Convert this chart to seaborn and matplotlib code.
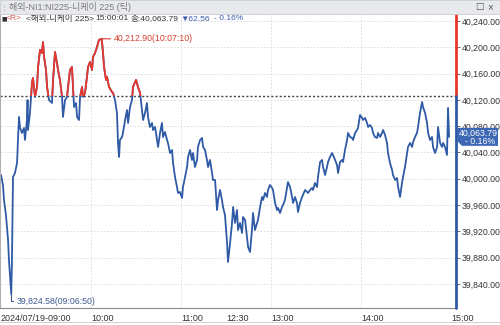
import matplotlib
matplotlib.use("Agg")
import matplotlib.pyplot as plt
import seaborn as sns
import pandas as pd
from matplotlib.patches import Rectangle, Polygon
from matplotlib.lines import Line2D

# ---- data (elapsed trading minutes from 09:00, lunch 11:30-12:30 removed) ----
minutes = [0, 1.3, 2.0, 3.3, 4.7, 5.3, 6.0, 6.83, 7.3, 8.0, 9.3, 10.7, 11.3, 12.0, 12.7, 14.0, 15.3, 16.0, 17.3, 17.7,
           18.0, 19.3, 20.0, 20.7, 21.3, 22.7, 24.0, 24.7, 26.0, 27.3, 28.0, 28.7, 30.0, 30.7, 32.0, 34.0, 34.7, 36.0, 37.3, 38.0,
           39.3, 40.7, 41.3, 42.7, 44.0, 44.7, 46.0, 47.3, 48.0, 48.7, 50.0, 50.7, 52.0, 52.7, 54.0, 54.7, 56.0, 57.3, 58.0, 59.3,
           60.7, 61.3, 62.7, 64.0, 65.3, 67.17, 68.0, 68.7, 70.0, 70.7, 72.0, 74.0, 74.7, 76.0, 77.3, 78.0, 78.7, 79.3, 80.7, 81.3,
           82.7, 84.0, 84.7, 86.0, 87.3, 88.0, 90.0, 91.3, 92.7, 94.0, 94.7, 96.0, 97.3, 98.0, 99.3, 100.7, 101.3, 102.7, 104.0, 104.7,
           106.0, 107.3, 108.0, 109.3, 110.7, 111.3, 112.7, 114.0, 114.7, 116.0, 117.3, 118.0, 119.3, 120.7, 121.3, 122.7, 124.0, 124.7, 126.0, 127.3,
           128.0, 129.3, 130.7, 131.3, 132.7, 134.0, 134.7, 136.0, 137.3, 138.0, 139.3, 140.7, 141.3, 142.7, 144.0, 144.7, 146.0, 147.3, 148.0, 149.3,
           150.7, 151.3, 152.7, 154.0, 154.7, 156.0, 157.3, 158.0, 159.3, 160.7, 161.3, 162.7, 164.0, 164.7, 166.0, 167.3, 168.0, 169.3, 170.7, 171.3,
           172.7, 174.0, 174.7, 176.0, 177.3, 178.0, 179.3, 180.7, 181.3, 182.7, 184.0, 184.7, 186.0, 187.3, 188.0, 189.3, 190.7, 191.3, 192.7, 194.0,
           194.7, 196.0, 197.3, 198.0, 199.3, 200.7, 201.3, 202.7, 204.0, 204.7, 206.0, 207.3, 208.0, 209.3, 210.7, 211.3, 212.7, 214.0, 214.7, 216.0,
           217.3, 218.0, 219.3, 220.7, 221.3, 222.7, 224.0, 224.7, 226.0, 227.3, 228.0, 229.3, 230.7, 231.3, 232.7, 234.0, 234.7, 236.0, 237.3, 238.0,
           239.3, 240.7, 241.3, 242.7, 244.0, 244.7, 246.0, 247.3, 248.0, 249.3, 250.7, 251.3, 252.7, 254.0, 254.7, 256.0, 257.3, 258.0, 259.3, 260.7,
           261.3, 262.7, 264.0, 264.7, 266.0, 267.3, 268.0, 269.3, 270.7, 271.3, 272.7, 274.0, 274.7, 276.0, 277.3, 278.0, 279.3, 280.7, 281.3, 282.7,
           284.0, 284.7, 286.0, 287.3, 288.0, 289.3, 290.7, 291.3, 292.7, 294.0, 294.7, 296.0, 297.3, 298.0, 298.7]
prices = [40005.8, 39990.6, 39967.8, 39944.9, 39906.9, 39876.5, 39853.7, 39824.58, 39876.5, 40002.7,
          40008.8, 40024.0, 40059.0, 40094.0, 40077.3, 40069.7, 40077.3, 40059.0, 40089.4, 40119.8,
          40074.2, 40100.1, 40124.4, 40147.2, 40153.3, 40124.4, 40139.6, 40170.0, 40195.9, 40191.3,
          40208.0, 40185.2, 40165.5, 40139.6, 40119.8, 40115.3, 40150.3, 40192.9, 40176.1, 40165.5,
          40150.3, 40124.4, 40094.0, 40119.8, 40124.4, 40139.6, 40165.5, 40170.0, 40139.6, 40109.2,
          40115.3, 40094.0, 40089.4, 40124.4, 40139.6, 40124.4, 40130.5, 40154.8, 40170.0, 40177.6,
          40165.5, 40185.2, 40191.3, 40200.5, 40211.1, 40212.9, 40191.3, 40170.0, 40150.3, 40154.8,
          40139.6, 40132.0, 40130.5, 40119.8, 40100.1, 40054.5, 40033.2, 40059.0, 40063.6, 40069.7,
          40089.4, 40104.6, 40084.9, 40109.2, 40119.8, 40139.6, 40150.3, 40139.6, 40130.5, 40104.6,
          40089.4, 40100.1, 40115.3, 40094.0, 40078.8, 40084.9, 40074.2, 40078.8, 40059.0, 40048.4,
          40069.7, 40084.9, 40063.6, 40071.2, 40059.0, 40054.5, 40039.2, 40043.8, 40024.0, 40002.7,
          39987.5, 39978.4, 39979.9, 39970.8, 39987.5, 40002.7, 40017.9, 40033.2, 40043.8, 40028.6,
          40039.2, 40017.9, 40028.6, 40048.4, 40059.0, 40062.1, 40048.4, 40043.8, 40028.6, 40017.9,
          40028.6, 40008.8, 39998.2, 39998.2, 39952.5, 39967.8, 39983.0, 39967.8, 39957.1, 39944.9,
          39902.4, 39873.5, 39902.4, 39932.8, 39957.1, 39932.8, 39952.5, 39922.1, 39932.8, 39917.6,
          39941.9, 39937.3, 39911.5, 39896.3, 39888.7, 39922.1, 39948.0, 39922.1, 39932.8, 39937.3,
          39957.1, 39972.3, 39967.8, 39978.4, 39972.3, 39983.0, 39990.6, 39986.0, 39983.0, 39963.2,
          39952.5, 39955.6, 39948.0, 39957.1, 39960.2, 39967.8, 39987.5, 39995.1, 39987.5, 39972.3,
          39963.2, 39972.3, 39963.2, 39949.5, 39963.2, 39972.3, 39975.4, 39983.0, 39979.9, 39978.4,
          39983.0, 39986.0, 39983.0, 39993.6, 39987.5, 40002.7, 40025.5, 40028.6, 40017.9, 40005.8,
          40017.9, 40025.5, 40033.2, 40039.2, 40036.2, 40028.6, 40021.0, 40008.8, 40025.5, 40028.6,
          40025.5, 40043.8, 40059.0, 40069.7, 40063.6, 40062.1, 40059.0, 40069.7, 40074.2, 40077.3,
          40097.0, 40092.5, 40089.4, 40092.5, 40084.9, 40078.8, 40081.8, 40077.3, 40069.7, 40063.6,
          40062.1, 40069.7, 40063.6, 40069.7, 40074.2, 40066.6, 40054.5, 40039.2, 40024.0, 40013.4,
          40005.8, 39998.2, 40001.2, 39987.5, 39972.3, 39993.6, 40002.7, 40017.9, 40039.2, 40048.4,
          40054.5, 40048.4, 40056.0, 40063.6, 40069.7, 40078.8, 40100.1, 40116.8, 40109.2, 40100.1,
          40084.9, 40069.7, 40059.0, 40063.6, 40048.4, 40039.2, 40048.4, 40078.8, 40054.5, 40048.4,
          40054.5, 40048.4, 40036.2, 40107.7, 40063.79]

prev_close = 40126.35
last_price = 40063.79
high_point = (67.17, 40212.90)
low_point = (6.83, 39824.58)
high_label = "40,212.90(10:07:10)"
low_label = "39,824.58(09:06:50)"
y_ticks = [39840, 39880, 39920, 39960, 40000, 40040, 40080, 40120, 40160, 40200, 40240]
x_tick_pos = [0, 60, 120, 150, 180, 240, 300]
x_tick_labels = ["2024/07/19-09:00", "10:00", "11:00", "12:30", "13:00", "14:00", "15:00"]
grid_x = [60, 120, 180, 240]
title_text = "해외-NI1:NI225-니케이 225 (틱)"
info_parts = ["<R>", "<해외-니케이 225>", "15:00:01", "종:40,063.79", "▼62.56", "- 0.16%"]

df = pd.DataFrame({"minute": minutes, "price": prices})

# ---- style ----
sns.set_style("white")
FONT = ["Liberation Sans", "Noto Sans CJK KR", "DejaVu Sans"]
plt.rcParams["font.family"] = FONT

BLUE = "#2f5ba6"
RED = "#e8382c"
GRAY = "#555555"

W, H = 500, 325
fig = plt.figure(figsize=(5, 3.25), dpi=100)
fig.patch.set_facecolor("white")
ax = fig.add_axes([0 / W, 17 / H, 456 / W, 294 / H])
ax.set_facecolor("white")

ax.set_xlim(-0.67, 303.3)
ax.set_ylim(39803.5, 40250.6)

# grid
for yt in y_ticks:
    ax.axhline(yt, color="#d9d9d9", lw=0.6, ls=(0, (2, 2)), zorder=0)
for xt in grid_x:
    ax.axvline(xt, color="#d9d9d9", lw=0.6, ls=(0, (2, 2)), zorder=0)

# previous close line
ax.axhline(prev_close, color="#444444", lw=1.0, ls=(0, (1.5, 1.5)), zorder=1)

# price line: blue everywhere, red part above previous close
sns.lineplot(data=df, x="minute", y="price", ax=ax, color=BLUE, lw=1.3, zorder=2, estimator=None, sort=False)
sns.lineplot(data=df, x="minute", y="price", ax=ax, color=RED, lw=1.3, zorder=3, estimator=None, sort=False)
red_line = ax.get_lines()[-1]
clip = Rectangle((-10, prev_close), 400, 1000, transform=ax.transData, visible=False)
ax.add_patch(clip)
red_line.set_clip_path(clip)

# high / low annotations
ax.annotate(high_label, xy=high_point, xytext=(12, 0), textcoords="offset pixels",
            color="#d2402f", fontsize=6.3, va="center", ha="left",
            arrowprops=dict(arrowstyle="-", color="#d2402f", lw=0.8, shrinkA=0, shrinkB=0))
ax.annotate(low_label, xy=low_point, xytext=(5, -7), textcoords="offset pixels",
            color="#3d5a8f", fontsize=6.3, va="center", ha="left",
            arrowprops=dict(arrowstyle="-", color="#3d5a8f", lw=0.8, shrinkA=0, shrinkB=0,
                            connectionstyle="angle,angleA=0,angleB=90,rad=0"))

# axes styling
ax.set_xlabel("")
ax.set_ylabel("")
for s in ["top", "right"]:
    ax.spines[s].set_visible(False)
ax.spines["left"].set_color("#b0b0b0")
ax.spines["left"].set_linewidth(0.8)
ax.spines["bottom"].set_color("#8a8a8a")
ax.spines["bottom"].set_linewidth(0.8)

frac = (prev_close - 39803.5) / (40250.6 - 39803.5)
ax.axvline(303.3, ymin=frac, ymax=1, color=RED, lw=2.0, clip_on=False, zorder=5)
ax.axvline(303.3, ymin=0, ymax=frac, color=BLUE, lw=2.0, clip_on=False, zorder=5)

ax.yaxis.tick_right()
ax.set_yticks(y_ticks)
ax.set_yticklabels([f"{v:,.2f}" for v in y_ticks])
ax.tick_params(axis="y", direction="out", length=3, width=0.6, color=GRAY, labelsize=6.3,
               labelcolor="#333333", pad=1)
ax.set_xticks(x_tick_pos)
ax.set_xticklabels(x_tick_labels)
ax.tick_params(axis="x", direction="out", length=4, width=0.6, color=GRAY, labelsize=6.5,
               labelcolor="#333333", pad=0)
for lab in ax.get_xticklabels():
    lab.set_ha("left")
for lab in ax.get_yticklabels():
    lab.set_zorder(1)

# price box on right axis
fig.canvas.draw()
renderer = fig.canvas.get_renderer()
yp = ax.transData.transform((0, last_price))[1]
box = Polygon([(457, yp + 9), (498, yp + 9), (498, yp - 9), (462, yp - 9), (457, yp - 4)],
              closed=True, transform=None, facecolor="#3b67b4", edgecolor="none", zorder=10)
fig.patches.append(box)
fig.text(478 / W, (yp + 4) / H, f"{last_price:,.2f}", color="white", fontsize=6.3,
         ha="center", va="center", zorder=11)
fig.text(480 / W, (yp - 4.5) / H, "- 0.16%", color="white", fontsize=6.3,
         ha="center", va="center", zorder=11)

# title bar
fig.patches.append(Rectangle((0, 1 - 14 / H), 1, 14 / H, transform=fig.transFigure,
                             facecolor="#e7e9ec", edgecolor="#c9cbce", lw=0.6, zorder=20))
fig.text(0.5 / W, 1 - 7 / H, "⋮", color="#a0a0a0", fontsize=5, va="center", zorder=21,
         family=["DejaVu Sans"])
fig.text(9 / W, 1 - 7 / H, title_text, color="#7a7a7a", fontsize=6.5, va="center", zorder=21)
fig.text(475 / W, 1 - 7 / H, "□", color="#555555", fontsize=6.5, va="center", zorder=21,
         family=["DejaVu Sans"])
fig.text(487 / W, 1 - 7 / H, "×", color="#555555", fontsize=7, va="center", zorder=21)

# info line, pieces placed one after another
yinfo = 1 - 19 / H
fig.text(1 / W, yinfo, "■", color="#333333", fontsize=4.2, va="center", family=["DejaVu Sans"])
info_c = ["#d9534f", "#333333", "#333333", "#333333", "#3a5cab", "#3a5cab"]
info_gap = [0, 4, 1.5, 2, 1.5, 4]
xcur = 6.0
for txt, col, gap in zip(info_parts, info_c, info_gap):
    xcur += gap
    t = fig.text(xcur / W, yinfo, txt, color=col, fontsize=6.1, va="center",
                 family=["Liberation Sans", "Noto Sans CJK KR", "DejaVu Sans"])
    xcur = t.get_window_extent(renderer).x1

# bottom border
fig.add_artist(Line2D([0, 1], [3 / H, 3 / H], transform=fig.transFigure, color="#c8c8c8", lw=0.6))

fig.savefig("out.png", dpi=100)
